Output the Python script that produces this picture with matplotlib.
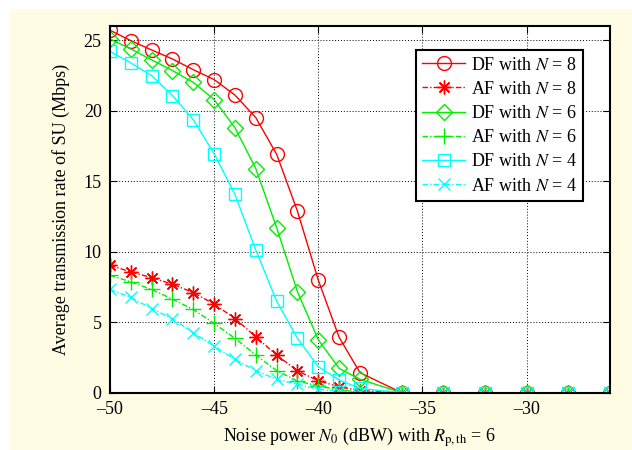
import numpy as np
import matplotlib
matplotlib.use("Agg")
import matplotlib.pyplot as plt
from matplotlib.patches import Rectangle

# noise power axis (dBW)
x = [-50, -49, -48, -47, -46, -45, -44, -43, -42, -41, -40, -39, -38,
     -36, -34, -32, -30, -28, -26]
zeros6 = [0, 0, 0, 0, 0, 0]

df8 = [25.7, 24.96, 24.3, 23.66, 22.9, 22.2, 21.1, 19.5, 16.9, 12.86, 7.97, 3.92, 1.42] + zeros6
af8 = [9.04, 8.56, 8.16, 7.69, 7.1, 6.28, 5.26, 3.96, 2.67, 1.54, 0.85, 0.42, 0.15] + zeros6
df6 = [25.08, 24.37, 23.6, 22.84, 22.0, 20.78, 18.78, 15.88, 11.7, 7.15, 3.75, 1.72, 0.95] + zeros6
af6 = [8.33, 7.86, 7.32, 6.63, 5.9, 4.91, 3.85, 2.67, 1.56, 0.83, 0.47, 0.2, 0.05] + zeros6
df4 = [24.2, 23.38, 22.48, 21.07, 19.35, 16.94, 14.06, 10.1, 6.49, 3.85, 1.84, 0.9, 0.3] + zeros6
af4 = [7.32, 6.75, 5.97, 5.24, 4.25, 3.3, 2.36, 1.56, 0.95, 0.6, 0.24, 0.1, 0.03] + zeros6

xticks = [-50, -45, -40, -35, -30]
yticks = [0, 5, 10, 15, 20, 25]

plt.rcParams['font.family'] = 'Liberation Serif'
plt.rcParams['mathtext.fontset'] = 'stix'

fig = plt.figure(figsize=(6.32, 4.5), dpi=100)
fig.patch.set_facecolor('white')
fig.patches.append(Rectangle((10 / 632, 0), 1, (450 - 9) / 450,
                             transform=fig.transFigure, facecolor='#fefde4',
                             edgecolor='none', zorder=-10))

ax = fig.add_axes([110 / 632, (450 - 392.7) / 450, 500 / 632, (392.7 - 26) / 450])
ax.set_facecolor('white')

green = '#00ee00'
dashdot = (0, (4, 1.5, 1, 1.5))
star = (8, 2, 0)  # asterisk like matlab '*'
ax.plot(x, df8, color='red', ls='-', lw=1, marker='o', ms=10, mfc='none', mew=1, label=r'DF with $N$ = 8')
ax.plot(x, af8, color='red', ls=dashdot, lw=1, marker=star, ms=10, mfc='none', mew=1, label=r'AF with $N$ = 8')
ax.plot(x, df6, color=green, ls='-', lw=1, marker='D', ms=8, mfc='none', mew=1, label=r'DF with $N$ = 6')
ax.plot(x, af6, color=green, ls=dashdot, lw=1, marker='+', ms=11, mfc='none', mew=1, label=r'AF with $N$ = 6')
ax.plot(x, df4, color='cyan', ls='-', lw=1, marker='s', ms=8, mfc='none', mew=1, label=r'DF with $N$ = 4')
ax.plot(x, af4, color='cyan', ls=dashdot, lw=1, marker='x', ms=8, mfc='none', mew=1, label=r'AF with $N$ = 4')

ax.set_xlim(-50, -26)
ax.set_ylim(0, 26)
ax.set_xticks(xticks)
ax.set_yticks(yticks)
ax.set_xticklabels(['\u2013' + str(-t) for t in xticks])
ax.tick_params(direction='in', top=True, right=True, labelsize=13, length=5, pad=6)
ax.grid(True, color='black', ls=(0, (1, 2)), lw=0.7)
for s in ax.spines.values():
    s.set_linewidth(1.5)

ax.set_xlabel(r'Noise power $N_0$ (dBW) with $R_{\rm p,th}$ = 6', fontsize=13, labelpad=5)
ax.set_ylabel('Average transmission rate of SU (Mbps)', fontsize=13, labelpad=10)

leg = ax.legend(loc='upper right', bbox_to_anchor=(0.946, 0.934), fontsize=13,
                fancybox=False, framealpha=1, edgecolor='black',
                handlelength=2.4, labelspacing=0.4, borderpad=0.35, handletextpad=0.3,
                borderaxespad=0)
leg.get_frame().set_linewidth(1.5)

fig.savefig('out.png', dpi=100, facecolor=fig.get_facecolor())
